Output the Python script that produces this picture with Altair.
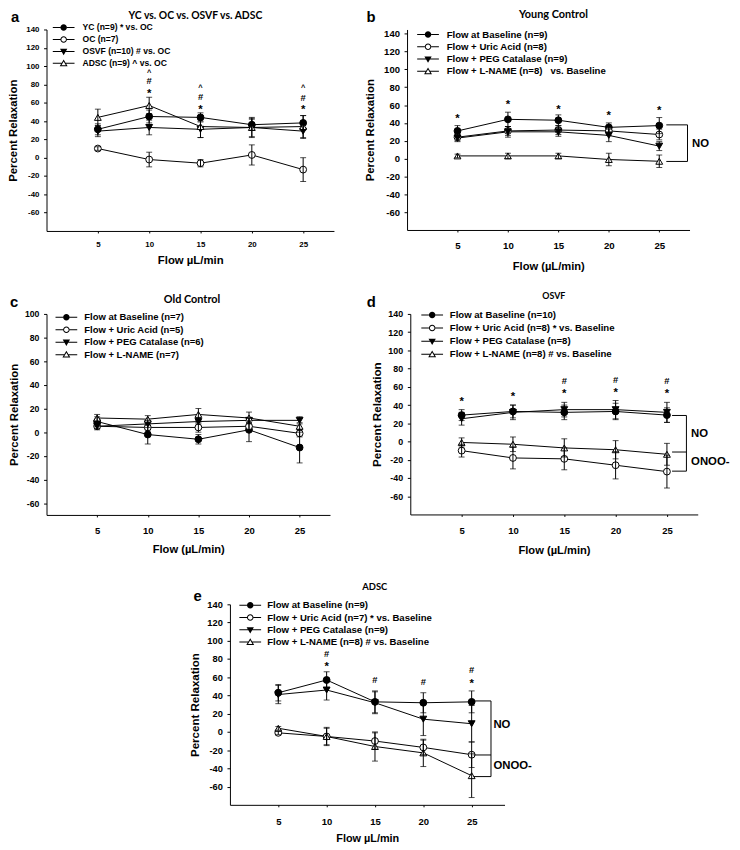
import altair as alt
import pandas as pd

FONT = "Liberation Sans"
TFONT = "Lato"

FLOW = [5, 10, 15, 20, 25]
Y_TICKS = [-60, -40, -20, 0, 20, 40, 60, 80, 100, 120, 140]
Y_TICKS_C = [-60, -40, -20, 0, 20, 40, 60, 80, 100]

# ---------------- panel a : YC vs OC vs OSVF vs ADSC
A_LABELS = ["YC (n=9) * vs. OC", "OC (n=7)", "OSVF (n=10) # vs. OC", "ADSC (n=9) ^ vs. OC"]
A_YC = [31, 45, 44, 36, 38]
A_YC_SE = [6, 7, 5, 6, 8]
A_OC = [10, -2, -6, 3, -13]
A_OC_SE = [2, 8, 4, 11, 13]
A_OSVF = [29, 33, 31, 33, 29]
A_OSVF_SE = [6, 8, 9, 10, 8]
A_ADSC = [44, 57, 34, 33, 34]
A_ADSC_SE = [9, 9, 12, 11, 12]
A_SIG_X = [10, 10, 10, 15, 15, 15, 25, 25, 25]
A_SIG_Y = [94, 84, 73, 78, 66.5, 55.5, 77.5, 66, 55.5]
A_SIG = ["^", "#", "*", "^", "#", "*", "^", "#", "*"]

# ---------------- panel b : Young Control
B_LABELS = ["Flow at Baseline (n=9)", "Flow + Uric Acid (n=8)", "Flow + PEG Catalase (n=9)",
            "Flow + L-NAME (n=8)\u00a0\u00a0\u00a0vs. Baseline"]
B_BASE = [31, 44, 43, 35, 37]
B_BASE_SE = [6, 8, 6, 5, 9]
B_URIC = [24, 31, 32, 31, 27]
B_URIC_SE = [4, 5, 5, 5, 6]
B_PEG = [23, 30, 30, 26, 14]
B_PEG_SE = [4, 6, 5, 7, 5]
B_LNAME = [3, 3, 3, -1, -3]
B_LNAME_SE = [2, 3, 3, 7, 7]
B_SIG_X = [5, 10, 15, 20, 25]
B_SIG_Y = [48, 63, 58, 51, 57]
B_SIG = ["*", "*", "*", "*", "*"]
B_BRACKET_X = [25.7, 27.8]
B_BRACKET_Y = [37.8, -3.2]
B_BRACKET_LABELS = ["NO"]
B_BRACKET_LABEL_Y = [17]

# ---------------- panel c : Old Control
C_LABELS = ["Flow at Baseline (n=7)", "Flow + Uric Acid (n=5)", "Flow + PEG Catalase (n=6)", "Flow + L-NAME (n=7)"]
C_BASE = [9, -2, -6, 2, -13]
C_BASE_SE = [4, 8, 4, 10, 13]
C_URIC = [5, 4, 4, 5, -1]
C_URIC_SE = [2, 3, 4, 3, 3]
C_PEG = [5, 7, 9, 10, 10]
C_PEG_SE = [3, 3, 2, 2, 3]
C_LNAME = [12, 11, 15, 12, 5]
C_LNAME_SE = [3, 3, 5, 5, 3]

# ---------------- panel d : OSVF
D_LABELS = ["Flow at Baseline (n=10)", "Flow + Uric Acid (n=8) * vs. Baseline", "Flow + PEG Catalase (n=8)",
            "Flow + L-NAME (n=8) # vs. Baseline"]
D_BASE = [29, 33, 32, 33, 29]
D_BASE_SE = [6, 7, 8, 9, 8]
D_URIC = [-10, -18, -19, -26, -33]
D_URIC_SE = [7, 12, 12, 15, 18]
D_PEG = [25, 32, 35, 35, 32]
D_PEG_SE = [7, 8, 8, 10, 11]
D_LNAME = [-1, -3, -7, -9, -14]
D_LNAME_SE = [5, 8, 10, 10, 12]
D_SIG_X = [5, 10, 15, 15, 20, 20, 25, 25]
D_SIG_Y = [47, 52, 55, 67, 56, 68, 55, 67]
D_SIG = ["*", "*", "*", "#", "*", "#", "*", "#"]
D_BRACKET_X = [25.5, 26.9]
D_BRACKET_Y = [28.6, -11.5, -32.5]
D_BRACKET_LABELS = ["NO", "ONOO-"]
D_BRACKET_LABEL_Y = [9.4, -21.3]

# ---------------- panel e : ADSC
E_LABELS = ["Flow at Baseline (n=9)", "Flow + Uric Acid (n=7) * vs. Baseline", "Flow + PEG Catalase (n=9)",
            "Flow + L-NAME (n=8) # vs. Baseline"]
E_BASE = [43, 57, 33, 32, 33]
E_BASE_SE = [9, 9, 12, 11, 12]
E_URIC = [-1, -5, -10, -17, -25]
E_URIC_SE = [2, 10, 9, 8, 14]
E_PEG = [41, 46, 32, 14, 9]
E_PEG_SE = [10, 11, 12, 18, 20]
E_LNAME = [4, -5, -16, -23, -48]
E_LNAME_SE = [2, 9, 16, 15, 24]
E_SIG_X = [10, 10, 15, 20, 25, 25]
E_SIG_Y = [86, 74, 57, 55, 68, 56]
E_SIG = ["#", "*", "#", "#", "#", "*"]
E_BRACKET_X = [25.2, 27.0]
E_BRACKET_Y = [34, -25.3, -49]
E_BRACKET_LABELS = ["NO", "ONOO-"]
E_BRACKET_LABEL_Y = [8, -36.2]

# ---------------- styles
SHAPES = ["circle", "circle", "triangle-down", "triangle-up"]
FILLS = ["black", "white", "black", "white"]
# legend glyphs: line stub + marker, drawn in pixel units (symbol size 4 -> scale 1)
_STUB_C = "M-11,-0.5H-3.3V0.5H-11ZM3.3,-0.5H11V0.5H3.3Z"
_STUB_T = "M-11,-0.5H-2V0.5H-11ZM2,-0.5H11V0.5H2Z"
LEGEND_PATHS = [
    _STUB_C + "M3.3,0A3.3,3.3,0,1,1,-3.3,0A3.3,3.3,0,1,1,3.3,0Z",
    _STUB_C + "M3.3,0A3.3,3.3,0,1,1,-3.3,0A3.3,3.3,0,1,1,3.3,0ZM2.3,0A2.3,2.3,0,1,0,-2.3,0A2.3,2.3,0,1,0,2.3,0Z",
    _STUB_T + "M-3.7,-2.6L3.7,-2.6L0,3.8Z",
    _STUB_T + "M0,-3.9L4,3L-4,3ZM0,-1.9L-2.25,2L2.25,2Z",
]
SIG_STYLE = {
    "*": dict(fontSize=11.5, dy=3.0),
    "#": dict(fontSize=9.5, dy=0.5),
    "^": dict(fontSize=7.5, dy=1.7),
}


def build_df(labels, means, ses):
    rows = []
    for lab, m, s in zip(labels, means, ses):
        for f, v, e in zip(FLOW, m, s):
            rows.append({"series": lab, "flow": f, "value": v, "lo": v - e, "hi": v + e})
    return pd.DataFrame(rows)


def make_panel(p):
    labels = p["labels"]
    df = build_df(labels, p["means"], p["ses"])
    xscale = alt.Scale(domain=[0, p["xmax"]], nice=False, zero=False)
    yscale = alt.Scale(domain=[p["ymin"], p["ymax"]], nice=False, zero=False)
    xaxis = alt.Axis(values=FLOW, title=p["xtitle"], grid=False, labelFlush=False, labelOverlap=False,
                     domainColor="black", domainWidth=1, tickColor="black", tickWidth=1, tickSize=2,
                     labelFont=FONT, labelFontWeight="bold", labelFontSize=p["xlab_fs"], labelColor="black",
                     labelPadding=p["xlab_pad"],
                     titleFont=FONT, titleFontWeight="bold", titleFontSize=p["xt_fs"], titleColor="black",
                     titleY=p["xt_y"], titleBaseline="middle")
    yaxis = alt.Axis(values=p["yticks"], title="Percent Relaxation", grid=False, labelFlush=False,
                     labelOverlap=False, domainColor="black", domainWidth=1, tickColor="black", tickWidth=1,
                     tickSize=3, labelFont=FONT, labelFontWeight="bold", labelFontSize=p["ylab_fs"],
                     labelColor="black", labelPadding=4.7, labelExpr="'' + datum.value",
                     titleFont=FONT, titleFontWeight="bold", titleFontSize=p["yt_fs"], titleColor="black",
                     titleX=p["yt_x"], titleBaseline="middle")

    def X(f):
        return alt.X(f"{f}:Q", scale=xscale, axis=xaxis)

    def Y(f):
        return alt.Y(f"{f}:Q", scale=yscale, axis=yaxis)

    base = alt.Chart(df)
    lines = base.mark_line(color="black", strokeWidth=1).encode(x=X("flow"), y=Y("value"), detail="series:N")
    pts = base.mark_point(stroke="black", strokeWidth=1, opacity=1, size=48).encode(
        x=X("flow"), y=Y("value"),
        shape=alt.Shape("series:N", scale=alt.Scale(domain=labels, range=SHAPES), legend=None),
        fill=alt.Fill("series:N", scale=alt.Scale(domain=labels, range=FILLS), legend=None),
    )
    bars = base.mark_rule(color="black", strokeWidth=1).encode(x=X("flow"), y=Y("lo"), y2="hi:Q")
    caps = base.transform_fold(["lo", "hi"], as_=["end", "yv"]).mark_tick(
        orient="horizontal", size=6, thickness=1, color="black").encode(x=X("flow"), y=Y("yv"))
    layers = [lines, pts, bars, caps]

    if p.get("sig_x"):
        sig = pd.DataFrame({"flow": p["sig_x"], "sy": p["sig_y"], "t": p["sig_t"]})
        for sym, st in SIG_STYLE.items():
            if sym in p["sig_t"]:
                layers.append(alt.Chart(sig).transform_filter(
                    alt.FieldEqualPredicate(field="t", equal=sym)).mark_text(
                    font=FONT, fontWeight="bold", baseline="middle", color="black", **st
                ).encode(x=X("flow"), y=Y("sy"), text="t:N"))

    if p.get("br_x"):
        bx1, bx2 = p["br_x"]
        ys = p["br_y"]
        segs = [{"x1": bx1, "x2": bx2, "y1": yv, "y2": yv} for yv in ys]
        segs.append({"x1": bx2, "x2": bx2, "y1": max(ys), "y2": min(ys)})
        bdf = pd.DataFrame(segs)
        layers.append(alt.Chart(bdf).mark_rule(color="black", strokeWidth=1).encode(
            x=X("x1"), x2="x2:Q", y=Y("y1"), y2="y2:Q"))
        ldf = pd.DataFrame({"lx": [bx2 + p["br_lab_dx"]] * len(p["br_labels"]), "ly": p["br_lab_y"],
                            "t": p["br_labels"]})
        layers.append(alt.Chart(ldf).mark_text(align="left", baseline="middle", dy=0.7, font=FONT,
                                               fontWeight="bold", fontSize=11.5, color="black").encode(
            x=X("lx"), y=Y("ly"), text="t:N"))

    leg = alt.Chart(pd.DataFrame({"series": labels})).transform_filter("false").mark_point(
        filled=True, color="black", opacity=1, size=4, strokeWidth=0
    ).encode(
        shape=alt.Shape("series:N", scale=alt.Scale(domain=labels, range=LEGEND_PATHS),
                        legend=alt.Legend(title=None, orient="none", legendX=p["leg_x"] - 1,
                                          legendY=p["leg_y"] - p["leg_fs"] / 2, symbolSize=4,
                                          symbolFillColor="black", symbolStrokeWidth=0, symbolOpacity=1,
                                          labelFont=FONT, labelFontWeight="bold", labelFontSize=p["leg_fs"],
                                          labelColor="black", labelOffset=p["leg_gap"] - 1, labelLimit=600,
                                          rowPadding=p["leg_sp"] - p["leg_fs"], padding=0, offset=0))
    )
    layers.append(leg)

    tdf = pd.DataFrame({"t": [p["letter"]], "title": [p["title"]], "anchor": ["."]})
    layers.append(alt.Chart(tdf).mark_text(align="left", baseline="middle", font=FONT, fontWeight="bold",
                                           fontSize=15, color="black").encode(
        x=alt.value(p["letter_x"]), y=alt.value(p["letter_y"]), text="t:N"))
    layers.append(alt.Chart(tdf).mark_text(align="center", baseline="middle", font=TFONT, fontWeight="bold",
                                           fontSize=p["title_fs"], color="black").encode(
        x=alt.value(p["title_x"]), y=alt.value(p["title_y"]), text="title:N"))
    if p.get("top_anchor"):
        # invisible element fixing the top edge of the layout
        layers.append(alt.Chart(tdf).mark_text(baseline="top", opacity=0, fontSize=8).encode(
            x=alt.value(0), y=alt.value(-p["top_anchor"]), text="anchor:N"))

    return alt.layer(*layers).resolve_scale(shape="independent", fill="independent").properties(
        width=p["w"], height=p["h"])


PA = dict(labels=A_LABELS, means=[A_YC, A_OC, A_OSVF, A_ADSC], ses=[A_YC_SE, A_OC_SE, A_OSVF_SE, A_ADSC_SE],
          xmax=28, ymin=-80, ymax=140, yticks=Y_TICKS, w=291, h=204,
          xtitle="Flow \u00b5L/min", xlab_fs=8, xlab_pad=8, xt_fs=11.5, xt_y=29.7,
          ylab_fs=8, yt_fs=11.5, yt_x=-33.3,
          sig_x=A_SIG_X, sig_y=A_SIG_Y, sig_t=A_SIG,
          leg_x=14, leg_y=-2, leg_fs=8.7, leg_sp=10.8, leg_gap=15.7,
          letter="a", letter_x=-36, letter_y=-12.5, title="YC vs. OC vs. OSVF vs. ADSC", title_fs=10.5,
          title_x=150.7, title_y=-13.3, top_anchor=30)
PB = dict(labels=B_LABELS, means=[B_BASE, B_URIC, B_PEG, B_LNAME], ses=[B_BASE_SE, B_URIC_SE, B_PEG_SE, B_LNAME_SE],
          xmax=28, ymin=-80, ymax=144.7, yticks=Y_TICKS, w=286, h=203,
          xtitle="Flow (\u00b5L/min)", xlab_fs=9.8, xlab_pad=9, xt_fs=11.3, xt_y=37.3,
          ylab_fs=9.6, yt_fs=11.5, yt_x=-36.6,
          sig_x=B_SIG_X, sig_y=B_SIG_Y, sig_t=B_SIG,
          br_x=B_BRACKET_X, br_y=B_BRACKET_Y, br_labels=B_BRACKET_LABELS, br_lab_y=B_BRACKET_LABEL_Y, br_lab_dx=0.45,
          leg_x=17.4, leg_y=5.2, leg_fs=9.7, leg_sp=11.1, leg_gap=15,
          letter="b", letter_x=-41, letter_y=-12.5, title="Young Control", title_fs=11,
          title_x=148.2, title_y=-14.5)
PC = dict(labels=C_LABELS, means=[C_BASE, C_URIC, C_PEG, C_LNAME], ses=[C_BASE_SE, C_URIC_SE, C_PEG_SE, C_LNAME_SE],
          xmax=28, ymin=-70, ymax=100, yticks=Y_TICKS_C, w=287, h=203.5,
          xtitle="Flow (\u00b5L/min)", xlab_fs=9.6, xlab_pad=8.3, xt_fs=11.3, xt_y=35,
          ylab_fs=8.8, yt_fs=11.5, yt_x=-32.8,
          leg_x=16.3, leg_y=3.4, leg_fs=9.6, leg_sp=11.2, leg_gap=14.3,
          letter="c", letter_x=-37, letter_y=-12.1, title="Old Control", title_fs=11,
          title_x=147.3, title_y=-14.2)
PD = dict(labels=D_LABELS, means=[D_BASE, D_URIC, D_PEG, D_LNAME], ses=[D_BASE_SE, D_URIC_SE, D_PEG_SE, D_LNAME_SE],
          xmax=28, ymin=-80, ymax=140, yticks=Y_TICKS, w=291, h=203,
          xtitle="Flow (\u00b5L/min)", xlab_fs=9.6, xlab_pad=9, xt_fs=11.3, xt_y=36.3,
          ylab_fs=9, yt_fs=11.8, yt_x=-34.3,
          sig_x=D_SIG_X, sig_y=D_SIG_Y, sig_t=D_SIG,
          br_x=D_BRACKET_X, br_y=D_BRACKET_Y, br_labels=D_BRACKET_LABELS, br_lab_y=D_BRACKET_LABEL_Y, br_lab_dx=0.45,
          leg_x=18.3, leg_y=1, leg_fs=9.7, leg_sp=12, leg_gap=14,
          letter="d", letter_x=-44, letter_y=-11.8, title="OSVF", title_fs=9,
          title_x=145.3, title_y=-18.3)
PE = dict(labels=E_LABELS, means=[E_BASE, E_URIC, E_PEG, E_LNAME], ses=[E_BASE_SE, E_URIC_SE, E_PEG_SE, E_LNAME_SE],
          xmax=28.4, ymin=-80, ymax=140, yticks=Y_TICKS, w=278, h=203,
          xtitle="Flow \u00b5L/min", xlab_fs=9.6, xlab_pad=9.7, xt_fs=11, xt_y=34.6,
          ylab_fs=9.4, yt_fs=11.7, yt_x=-36,
          sig_x=E_SIG_X, sig_y=E_SIG_Y, sig_t=E_SIG,
          br_x=E_BRACKET_X, br_y=E_BRACKET_Y, br_labels=E_BRACKET_LABELS, br_lab_y=E_BRACKET_LABEL_Y, br_lab_dx=0.25,
          leg_x=16.7, leg_y=1, leg_fs=9.7, leg_sp=11.1, leg_gap=13.3,
          letter="e", letter_x=-37, letter_y=-8.8, title="ADSC", title_fs=9.5,
          title_x=146.7, title_y=-17.3)

pa, pb, pc, pd_, pe = (make_panel(p) for p in (PA, PB, PC, PD, PE))

# invisible spacer that offsets the bottom panel to the right and down
spacer = alt.Chart(pd.DataFrame({"t": ["."]})).mark_text(baseline="top", opacity=0, fontSize=10).encode(
    text="t:N", x=alt.value(0), y=alt.value(-29.4)).properties(width=163, height=10)

row1 = alt.hconcat(pa, pb, spacing=74, bounds="flush").resolve_scale(shape="independent", fill="independent")
row2 = alt.hconcat(pc, pd_, spacing=81.3, bounds="flush").resolve_scale(shape="independent", fill="independent")
row3 = alt.hconcat(spacer, pe, spacing=22.7, bounds="flush").resolve_scale(shape="independent", fill="independent")

chart = alt.vconcat(row1, row2, row3, spacing=19).resolve_scale(
    shape="independent", fill="independent"
).configure_view(stroke=None).properties(
    padding={"left": -1, "top": -13.5, "right": 2, "bottom": 2}
)

chart.save("out.html", embed_options={"renderer": "svg", "actions": False})
